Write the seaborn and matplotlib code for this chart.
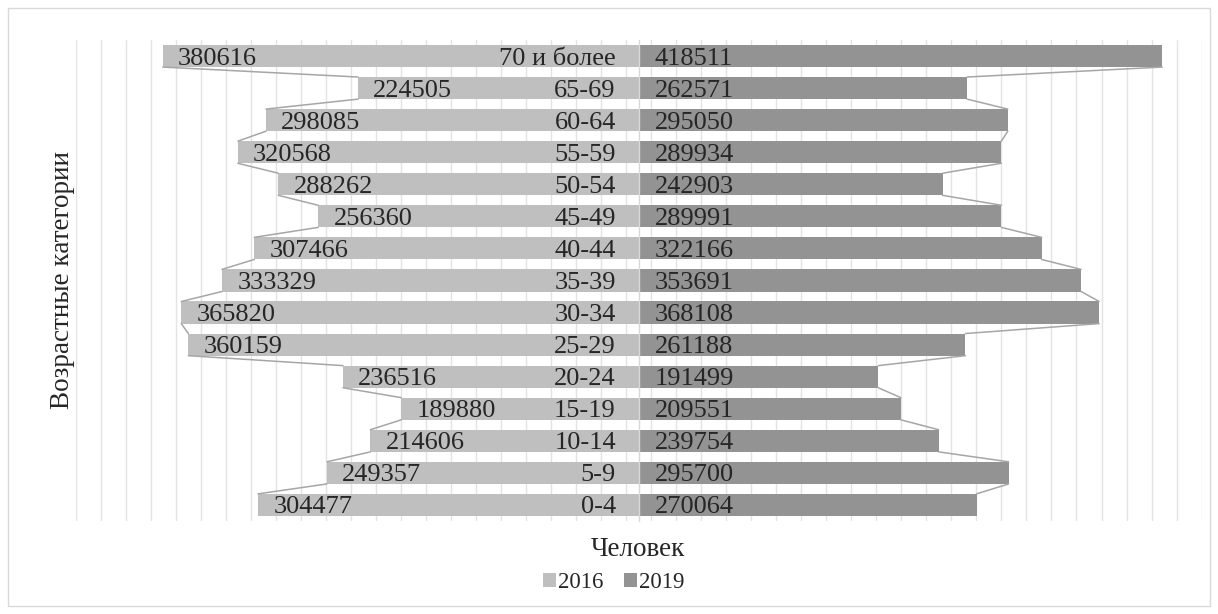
import matplotlib.pyplot as plt
import numpy as np
import pandas as pd
import seaborn as sns
from matplotlib.patches import Patch, Rectangle

# Age groups from top to bottom
ages = ["70 и более", "65-69", "60-64", "55-59", "50-54", "45-49", "40-44",
        "35-39", "30-34", "25-29", "20-24", "15-19", "10-14", "5-9", "0-4"]
pop_2016 = [380616, 224505, 298085, 320568, 288262, 256360, 307466,
            333329, 365820, 360159, 236516, 189880, 214606, 249357, 304477]
pop_2019 = [418511, 262571, 295050, 289934, 242903, 289991, 322166,
            353691, 368108, 261188, 191499, 209551, 239754, 295700, 270064]
years = ["2016", "2019"]
colors = {"2016": "#bfbfbf", "2019": "#939393"}

sns.set_style("white")
plt.rcParams["font.family"] = ["Liberation Serif", "DejaVu Serif"]

# 2016 goes to the left side of the pyramid
df = pd.DataFrame({
    "age": ages * 2,
    "value": [-v for v in pop_2016] + pop_2019,
    "year": ["2016"] * len(ages) + ["2019"] * len(ages),
})

fig = plt.figure(figsize=(12.18, 6.14), dpi=100)
ax = fig.add_axes([0.0624, 0.1515, 0.9241, 0.7834])

bar_h = 0.69
sns.barplot(data=df, y="age", x="value", hue="year", order=ages,
            hue_order=years, palette=colors, dodge=False, width=bar_h,
            errorbar=None, linewidth=0, legend=False, ax=ax)

# series lines between the ends of neighbouring bars
for side, vals in ((-1, pop_2016), (1, pop_2019)):
    for i in range(len(ages) - 1):
        ax.plot([side * vals[i], side * vals[i + 1]],
                [i + bar_h / 2, i + 1 - bar_h / 2],
                color="#a6a6a6", lw=1.1, zorder=2)

# data labels
for i, (a, b) in enumerate(zip(pop_2016, pop_2019)):
    ax.annotate(str(a), (-a, i), xytext=(11, 0), textcoords="offset points",
                ha="left", va="center_baseline", fontsize=19)
    ax.annotate(str(b), (0, i), xytext=(11.5, 0), textcoords="offset points",
                ha="left", va="center_baseline", fontsize=19)

ax.set_xlim(-450000, 450000)
ax.set_ylim(len(ages) - 0.5, -0.5)
ax.set_xticks(np.arange(-450000, 450001, 20000))
ax.tick_params(axis="x", length=0, labelbottom=False)
ax.grid(axis="x", color="#e3e3e3", lw=1)
ax.grid(axis="y", visible=False)
ax.set_xlabel("")
ax.set_ylabel("")

for s in ("top", "right", "bottom"):
    ax.spines[s].set_visible(False)
ax.spines["left"].set_position(("data", 0))
ax.spines["left"].set_color("#d9d9d9")
ax.spines["left"].set_linewidth(1)
ax.set_yticks(np.arange(-0.5, len(ages), 1), minor=True)
ax.tick_params(axis="y", which="major", length=0, pad=16.5, labelsize=19)
ax.tick_params(axis="y", which="minor", length=5, color="#d9d9d9", width=1)
ax.xaxis.set_zorder(0.5)
ax.yaxis.set_zorder(3)

ax.text(-0.0124, 0.5, "Возрастные категории", transform=ax.transAxes,
        rotation=90, ha="center", va="center", fontsize=19.5)
fig.text(638 / 1218, 1 - 550 / 614, "Человек", ha="center", va="center",
         fontsize=19.5)

handles = [Patch(facecolor=colors[y], edgecolor="none") for y in years]
fig.legend(handles, years, loc="center", bbox_to_anchor=(614 / 1218, 1 - 583 / 614),
           ncol=2, frameon=False, fontsize=16.5, handlelength=0.55,
           handleheight=0.55, handletextpad=0.1, columnspacing=0.9)

fig.add_artist(Rectangle((8 / 1218, 8 / 614), 1202 / 1218, 598 / 614,
                         transform=fig.transFigure, fill=False,
                         edgecolor="#d9d9d9", lw=1))

fig.savefig("out.png", dpi=100)
